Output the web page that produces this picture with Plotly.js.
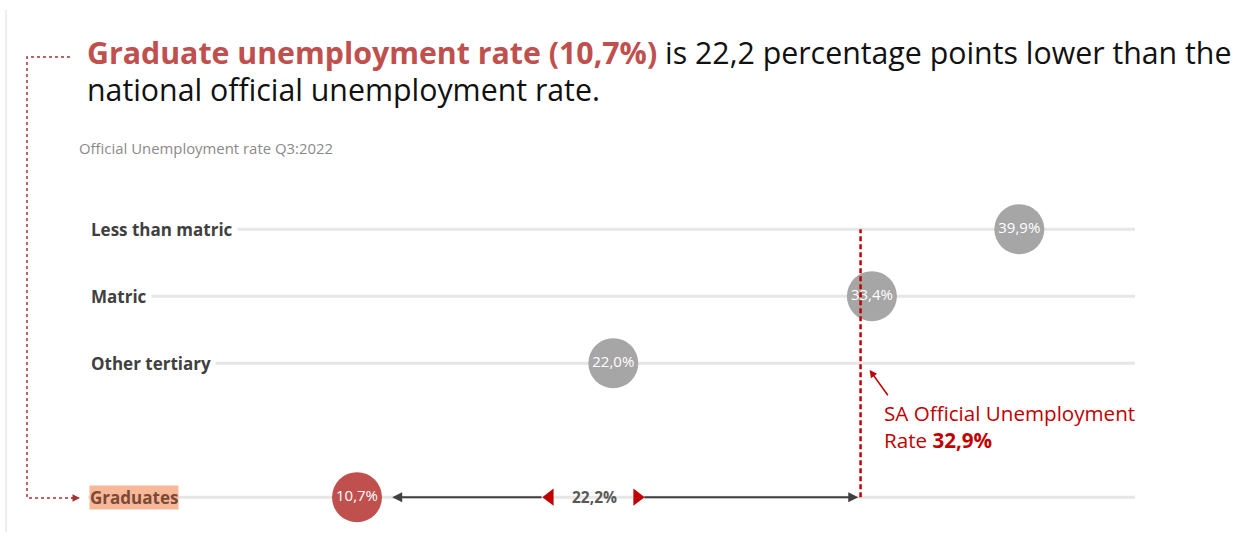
<!DOCTYPE html>
<html><head><meta charset="utf-8">
<script src="https://cdn.plot.ly/plotly-3.0.1.min.js"></script>
<style>html,body{margin:0;padding:0;background:#fff}#chart{width:1240px;height:533px}</style>
</head><body><div id="chart"></div>
<script>
// ---- data ----
const categories = ['Less than matric', 'Matric', 'Other tertiary', 'Graduates'];
const rates = [39.9, 33.4, 22.0, 10.7];
const rateLabels = ['39,9%', '33,4%', '22,0%', '10,7%'];
const nationalRate = 32.9;
const nationalLabel = '32,9%';
const gapLabel = '22,2%';

// ---- layout helpers ----
const M = {l: 88, r: 105, t: 189, b: 9};
const W = 1240, H = 533;
const PW = W - M.l - M.r, PH = H - M.t - M.b;
const px = v => (v - M.l) / PW;
const py = v => (H - M.b - v) / PH;
// rows: a gap row is left between "Other tertiary" and "Graduates"
const rowY = categories.map((c, i) => i < 3 ? 4 - i : 0);
const gradIdx = 3;
const FONT = '"Open Sans", sans-serif';

const colors = categories.map((c, i) => i === gradIdx ? '#c0504d' : '#a6a6a6');

const traces = [
  {
    type: 'scatter', mode: 'markers+text',
    x: rates, y: rowY, text: rateLabels,
    textposition: 'middle center',
    textfont: {family: FONT, size: 15, color: '#ffffff'},
    marker: {size: 50, color: colors, line: {width: 0}},
    hoverinfo: 'skip', showlegend: false, cliponaxis: false
  }
];

const mid = (rates[gradIdx] + nationalRate) / 2;
traces.push({
  type: 'scatter', mode: 'markers',
  x: [mid - 2.6, mid + 1.25], y: [0, 0],
  marker: {symbol: ['triangle-left', 'triangle-right'], size: 15, color: '#c00000'},
  hoverinfo: 'skip', showlegend: false, cliponaxis: false
});

const shapes = [];
// light grey frame line on left
shapes.push({type: 'line', xref: 'paper', yref: 'paper', x0: px(6), x1: px(6), y0: py(10), y1: py(532),
  line: {color: '#ededed', width: 2}});
// row guide lines
rowY.forEach(y => shapes.push({type: 'line', xref: 'paper', yref: 'y', x0: 0, x1: 1, y0: y, y1: y,
  line: {color: '#e6e6e6', width: 3}, layer: 'below'}));
// national rate dashed line
shapes.push({type: 'line', xref: 'x', yref: 'y', x0: nationalRate, x1: nationalRate, y0: 0, y1: rowY[0],
  line: {color: '#c00000', width: 2.5, dash: '5px,3px'}});
// dotted bracket from title to Graduates
shapes.push({type: 'path', xref: 'paper', yref: 'paper',
  path: `M ${px(70)} ${py(57)} L ${px(27)} ${py(57)} L ${px(27)} ${py(498)} L ${px(74)} ${py(498)}`,
  line: {color: '#a83232', width: 1.5, dash: 'dot'}});

const annotations = [];
// Title (two lines)
annotations.push({xref: 'paper', yref: 'paper', x: px(85), y: py(52), xanchor: 'left', yanchor: 'middle', align: 'left',
  showarrow: false,
  text: '<b><span style="color:#c0504d">Graduate unemployment rate (10,7%)</span></b> is 22,2 percentage points lower than the',
  font: {family: FONT, size: 30.3, color: '#111111'}});
annotations.push({xref: 'paper', yref: 'paper', x: px(85), y: py(89), xanchor: 'left', yanchor: 'middle', align: 'left',
  showarrow: false, text: 'national official unemployment rate.',
  font: {family: FONT, size: 30.3, color: '#111111'}});
// bracket arrowhead
annotations.push({xref: 'paper', yref: 'paper', x: px(80), y: py(498), ax: px(70), ay: py(498),
  axref: 'paper', ayref: 'paper', text: '', showarrow: true, arrowhead: 2, arrowsize: 1, arrowwidth: 1.5, arrowcolor: '#a83232'});
// subtitle
annotations.push({xref: 'paper', yref: 'paper', x: px(77), y: py(148), xanchor: 'left', yanchor: 'middle',
  showarrow: false, text: 'Official Unemployment rate Q3:2022', font: {family: FONT, size: 14.9, color: '#8a8a8a'}});
// row labels
categories.forEach((c, i) => {
  const g = i === gradIdx;
  annotations.push({xref: 'paper', yref: 'y', x: px(g ? 89 : 86), y: rowY[i], xanchor: 'left', yanchor: 'middle',
    showarrow: false, text: '<b>' + c + '</b>',
    font: {family: FONT, size: 17, color: g ? '#7a4a35' : '#404040'},
    bgcolor: g ? '#f8b799' : '#ffffff', borderpad: g ? 0 : 4});
});
// gap arrows
annotations.push({xref: 'x', yref: 'y', x: rates[gradIdx] + 1.55, y: 0, ax: mid - 2.9, ay: 0, axref: 'x', ayref: 'y',
  text: '', showarrow: true, arrowhead: 2, arrowsize: 1, arrowwidth: 2, arrowcolor: '#404040'});
annotations.push({xref: 'x', yref: 'y', x: nationalRate - 0.1, y: 0, ax: mid + 1.5, ay: 0, axref: 'x', ayref: 'y',
  text: '', showarrow: true, arrowhead: 2, arrowsize: 1, arrowwidth: 2, arrowcolor: '#404040'});
annotations.push({xref: 'x', yref: 'y', x: mid - 0.65, y: 0, xanchor: 'center', yanchor: 'middle', showarrow: false,
  text: '<b>' + gapLabel + '</b>', font: {family: FONT, size: 15.5, color: '#595959'}});
// national annotation
annotations.push({xref: 'x', yref: 'y', x: nationalRate + 0.95, y: 1.5, xanchor: 'left', yanchor: 'top', align: 'left',
  showarrow: false, text: 'SA Official Unemployment<br>Rate <b>' + nationalLabel + '</b>',
  font: {family: FONT, size: 20.6, color: '#c00000'}});
annotations.push({xref: 'x', yref: 'y', x: nationalRate + 0.4, y: 1.9, ax: nationalRate + 1.25, ay: 1.5,
  axref: 'x', ayref: 'y', text: '', showarrow: true, arrowhead: 2, arrowsize: 1, arrowwidth: 1.5, arrowcolor: '#c00000'});

const layout = {
  width: W, height: H, margin: M,
  paper_bgcolor: '#ffffff', plot_bgcolor: '#ffffff',
  xaxis: {range: [-1.16, 45], showgrid: false, zeroline: false, showticklabels: false, showline: false, ticks: ''},
  yaxis: {range: [-0.4, 4.6], showgrid: false, zeroline: false, showticklabels: false, showline: false, ticks: ''},
  shapes, annotations, showlegend: false
};
Plotly.newPlot('chart', traces, layout, {staticPlot: true, displayModeBar: false});
</script></body></html>
